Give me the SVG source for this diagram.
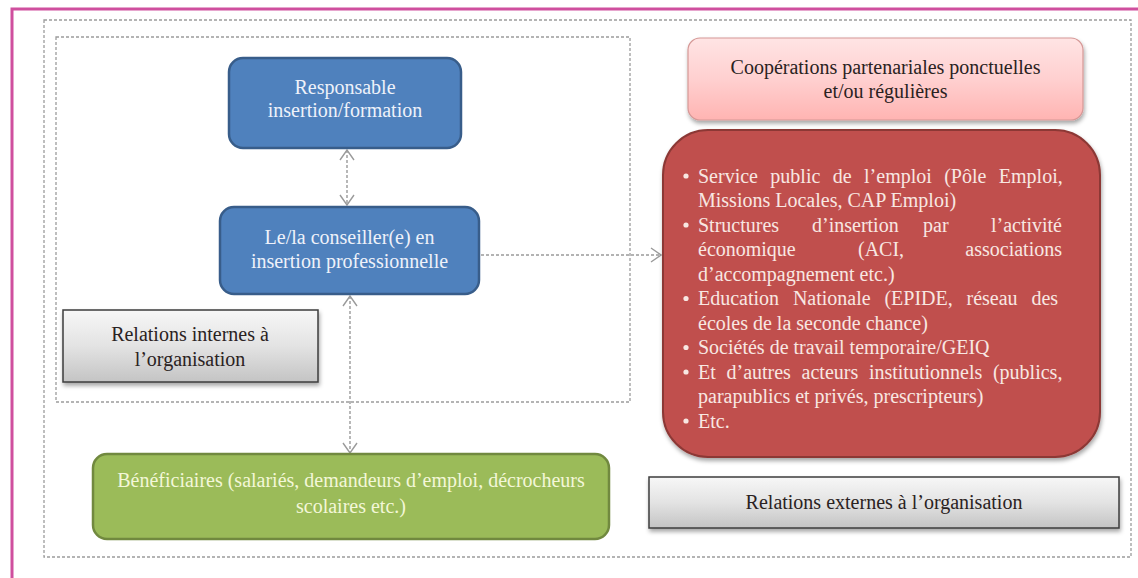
<svg xmlns="http://www.w3.org/2000/svg" width="1138" height="578" viewBox="0 0 1138 578">
<defs>
<linearGradient id="gGray" x1="0" y1="0" x2="0" y2="1">
<stop offset="0" stop-color="#f7f7f7"/><stop offset="0.5" stop-color="#e3e3e3"/><stop offset="1" stop-color="#c4c4c4"/>
</linearGradient>
<linearGradient id="gPink" x1="0" y1="0" x2="0" y2="1">
<stop offset="0" stop-color="#ffe4e4"/><stop offset="0.5" stop-color="#ffd0d0"/><stop offset="1" stop-color="#ffb4b2"/>
</linearGradient>
<filter id="sh" x="-10%" y="-20%" width="120%" height="150%">
<feDropShadow dx="1" dy="3" stdDeviation="2" flood-color="#000" flood-opacity="0.35"/>
</filter>
<marker id="ah" viewBox="0 0 12 16" refX="11" refY="8" markerWidth="12" markerHeight="16" markerUnits="userSpaceOnUse" orient="auto-start-reverse">
<path d="M1,1 L11,8 L1,15" fill="none" stroke="#9a9a9a" stroke-width="1.4"/>
</marker>
<style>
.frame{fill:none;stroke:#cf4f9e;stroke-width:3}
.dash{fill:none;stroke:#9c9c9c;stroke-width:1.3;stroke-dasharray:3 2}
.conn{fill:none;stroke:#9a9a9a;stroke-width:1.4;stroke-dasharray:3 2}
.t{font-family:"Liberation Serif","Times New Roman",serif;font-size:20px}
.blue{fill:#4f81bd;stroke:#385d8a;stroke-width:2.5}
.green{fill:#9bbb59;stroke:#71893f;stroke-width:2.5}
.red{fill:#c0504d;stroke:#8c3836;stroke-width:2}
.pink{fill:url(#gPink);stroke:#d59896;stroke-width:1.2}
.gray{fill:url(#gGray);stroke:#3c3c3c;stroke-width:1.5}
.wt{fill:#eef2fa}
.gt{fill:#f3f7d8}
.rt{fill:#f8e7e2}
.dk{fill:#2a2222}
</style>
</defs>
<rect width="1138" height="578" fill="#ffffff"/>
<rect class="frame" x="12" y="9" width="1140" height="600"/>
<rect class="dash" x="44" y="20" width="1087" height="537"/>
<rect class="dash" x="56" y="37" width="574" height="365"/>

<g id="connectors">
<line class="conn" x1="347" y1="150" x2="347" y2="205" marker-start="url(#ah)" marker-end="url(#ah)"/>
<line class="conn" x1="350" y1="296" x2="350" y2="453" marker-start="url(#ah)" marker-end="url(#ah)"/>
<line class="conn" x1="481" y1="255" x2="661" y2="255" marker-end="url(#ah)"/>
</g>

<g id="responsable">
<rect class="blue" x="229" y="58" width="232" height="90" rx="14"/>
<text class="t wt" text-anchor="middle"><tspan x="345" y="94">Responsable</tspan><tspan x="345" y="117">insertion/formation</tspan></text>
</g>

<g id="conseiller">
<rect class="blue" x="220" y="207" width="259" height="87" rx="14"/>
<text class="t wt" text-anchor="middle"><tspan x="349.5" y="244">Le/la conseiller(e) en</tspan><tspan x="349.5" y="268">insertion professionnelle</tspan></text>
</g>

<g id="relations-internes">
<rect class="gray" x="63" y="310" width="255" height="72" filter="url(#sh)"/>
<text class="t dk" text-anchor="middle"><tspan x="190" y="341">Relations internes à</tspan><tspan x="190" y="366">l’organisation</tspan></text>
</g>

<g id="beneficiaires">
<rect class="green" x="93" y="454" width="516" height="85" rx="14"/>
<text class="t gt" text-anchor="middle"><tspan x="351" y="487">Bénéficiaires (salariés, demandeurs d’emploi, décrocheurs</tspan><tspan x="351" y="513">scolaires etc.)</tspan></text>
</g>

<g id="cooperations">
<rect class="pink" x="688" y="38" width="395" height="82" rx="12" filter="url(#sh)"/>
<text class="t dk" text-anchor="middle"><tspan x="885.5" y="74">Coopérations partenariales ponctuelles</tspan><tspan x="885.5" y="98">et/ou régulières</tspan></text>
</g>

<g id="partenaires">
<rect class="red" x="663" y="130" width="437" height="327" rx="45" filter="url(#sh)"/>
<g class="rt">
<circle cx="686" cy="176" r="2.6"/>
<circle cx="686" cy="225" r="2.6"/>
<circle cx="686" cy="298.5" r="2.6"/>
<circle cx="686" cy="347.5" r="2.6"/>
<circle cx="686" cy="372" r="2.6"/>
<circle cx="686" cy="421" r="2.6"/>
</g>
<text class="t rt" x="698" y="182.5" word-spacing="7.4">Service public de l’emploi (Pôle Emploi,</text>
<text class="t rt" x="698" y="207">Missions Locales, CAP Emploi)</text>
<text class="t rt" x="698" y="231.5">Structures</text>
<text class="t rt" x="812" y="231.5">d’insertion</text>
<text class="t rt" x="923" y="231.5">par</text>
<text class="t rt" x="1062" y="231.5" text-anchor="end">l’activité</text>
<text class="t rt" x="698" y="256">économique</text>
<text class="t rt" x="858" y="256">(ACI,</text>
<text class="t rt" x="1062" y="256" text-anchor="end">associations</text>
<text class="t rt" x="698" y="280.5">d’accompagnement etc.)</text>
<text class="t rt" x="698" y="305" word-spacing="8.8">Education Nationale (EPIDE, réseau des</text>
<text class="t rt" x="698" y="329.5">écoles de la seconde chance)</text>
<text class="t rt" x="698" y="354">Sociétés de travail temporaire/GEIQ</text>
<text class="t rt" x="698" y="378.5" word-spacing="5.7">Et d’autres acteurs institutionnels (publics,</text>
<text class="t rt" x="698" y="403">parapublics et privés, prescripteurs)</text>
<text class="t rt" x="698" y="427.5">Etc.</text>
</g>

<g id="relations-externes">
<rect class="gray" x="649" y="477" width="470" height="51" filter="url(#sh)"/>
<text class="t dk" x="884" y="509" text-anchor="middle">Relations externes à l’organisation</text>
</g>
</svg>
